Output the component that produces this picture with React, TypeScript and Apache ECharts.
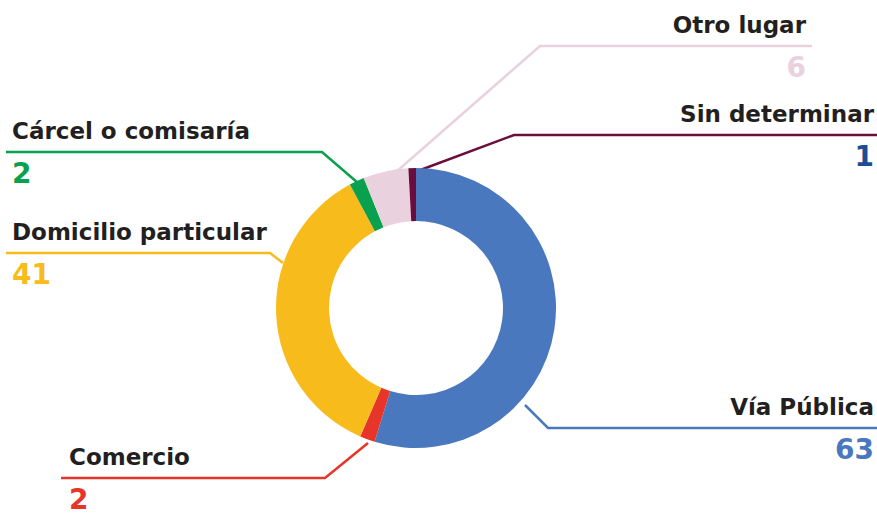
import React, { useEffect, useRef } from "react";
import * as echarts from "echarts";

const categories = [
  "Vía Pública",
  "Comercio",
  "Domicilio particular",
  "Cárcel o comisaría",
  "Otro lugar",
  "Sin determinar",
];
const values = [63, 2, 41, 2, 6, 1];
const sliceColors = ["#4a78bf", "#e8352a", "#f7bc1c", "#0aa14e", "#ead1de", "#6b0d3c"];
const valueColors = ["#4a78bf", "#e8352a", "#f7bc1c", "#0aa14e", "#ead1de", "#1c4e94"];

// label layout: label x, y of the horizontal leader line, alignment, leader line points
const layouts: any[] = [
  { x: 874, y: 428, align: "right", pts: [[525, 405], [548, 428], [877, 428]] },
  { x: 69, y: 478, align: "left", pts: [[368, 443], [325, 478], [61, 478]] },
  { x: 12, y: 253, align: "left", pts: [[283, 263], [270, 253], [6, 253]] },
  { x: 12, y: 152, align: "left", pts: [[358, 183], [322, 152], [6, 152]] },
  { x: 806, y: 46, align: "right", pts: [[396, 172], [540, 46], [812, 46]] },
  { x: 874, y: 135, align: "right", pts: [[415, 172], [514, 135], [877, 135]] },
];

const FONT = "DejaVu Sans";

export default function App() {
  const ref = useRef<HTMLDivElement>(null);
  useEffect(() => {
    if (!ref.current) return;
    const chart = echarts.init(ref.current, null, { renderer: "svg" });
    const rich: any = {
      n: { fontFamily: FONT, fontWeight: "bold", fontSize: 23, color: "#231f20", lineHeight: 60 },
    };
    valueColors.forEach((c, i) => {
      rich["v" + i] = { fontFamily: FONT, fontWeight: "bold", fontSize: 28, color: c, lineHeight: 24 };
    });
    chart.setOption({
      animation: false,
      backgroundColor: "#ffffff",
      series: [
        {
          type: "pie",
          center: [416, 308],
          radius: [87, 140],
          startAngle: 90,
          clockwise: true,
          avoidLabelOverlap: false,
          silent: true,
          data: categories.map((name, i) => ({
            name,
            value: values[i],
            itemStyle: { color: sliceColors[i] },
            labelLine: { lineStyle: { color: sliceColors[i] } },
          })),
          label: {
            show: true,
            position: "outside",
            formatter: (p: any) => `{n|${p.name}}\n{v${p.dataIndex}|${p.value}}`,
            rich,
          },
          labelLine: { show: true, lineStyle: { width: 2.5 }, smooth: false },
          labelLayout: (p: any) => {
            const l = layouts[p.dataIndex];
            return {
              x: l.x,
              y: l.y - 51,
              align: l.align,
              verticalAlign: "top",
              labelLinePoints: l.pts,
            };
          },
        },
      ],
    });
    return () => chart.dispose();
  }, []);
  return (
    <div
      ref={ref}
      style={{ position: "fixed", left: 0, top: 0, width: 877, height: 516 }}
    />
  );
}
